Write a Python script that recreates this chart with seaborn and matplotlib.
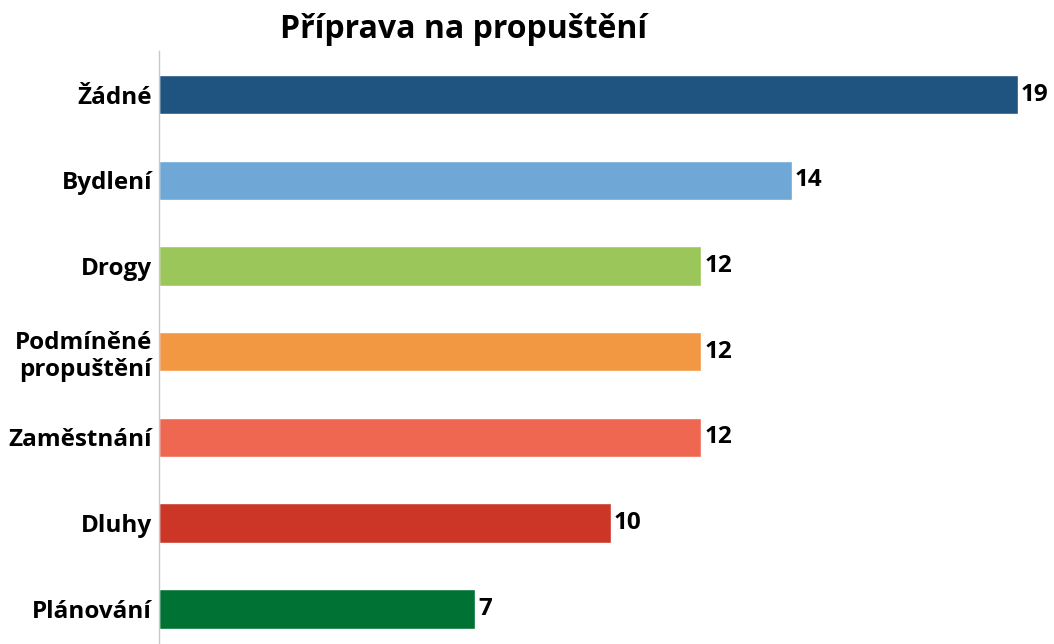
import matplotlib
matplotlib.use("Agg")
import matplotlib.pyplot as plt
import pandas as pd
import seaborn as sns

categories = ["Žádné", "Bydlení", "Drogy", "Podmíněné\npropuštění",
              "Zaměstnání", "Dluhy", "Plánování"]
counts = [19, 14, 12, 12, 12, 10, 7]
colors = ["#1F5380", "#6FA8D6", "#9BC75A", "#F39842",
          "#EF6751", "#CB3627", "#007233"]

sns.set_theme(style="white")
plt.rcParams["font.family"] = ["Open Sans", "DejaVu Sans"]
plt.rcParams["text.color"] = "black"
plt.rcParams["ytick.color"] = "black"

df = pd.DataFrame({"category": categories, "count": counts})

fig = plt.figure(figsize=(10.54, 6.44), dpi=100)
ax = fig.add_axes([159 / 1054, 0, 895 / 1054, 1 - 51 / 644])

sns.barplot(data=df, x="count", y="category", hue="category",
            palette=colors, width=0.46, legend=False, ax=ax,
            saturation=1)

for container in ax.containers:
    ax.bar_label(container, padding=2, fontsize=17.5, fontweight="bold",
                 color="black")

ax.set_xlim(0, 19.8)
ax.set_ylim(6.41, -0.51)
ax.set_xlabel("")
ax.set_ylabel("")
ax.set_xticks([])
ax.tick_params(axis="y", length=0, pad=5, labelsize=17.5, labelcolor="black")
for lbl in ax.get_yticklabels():
    lbl.set_fontweight("bold")
    lbl.set_horizontalalignment("right")
    lbl.set_multialignment("right")
    lbl.set_linespacing(1.2)

for side in ["top", "right", "bottom"]:
    ax.spines[side].set_visible(False)
ax.spines["left"].set_color("#C8C8C8")
ax.spines["left"].set_linewidth(1)

fig.text(0.44, 1 - 30 / 644, "Příprava na propuštění", ha="center",
         va="center", fontsize=23, fontweight="bold")

fig.savefig("out.png", dpi=100)
